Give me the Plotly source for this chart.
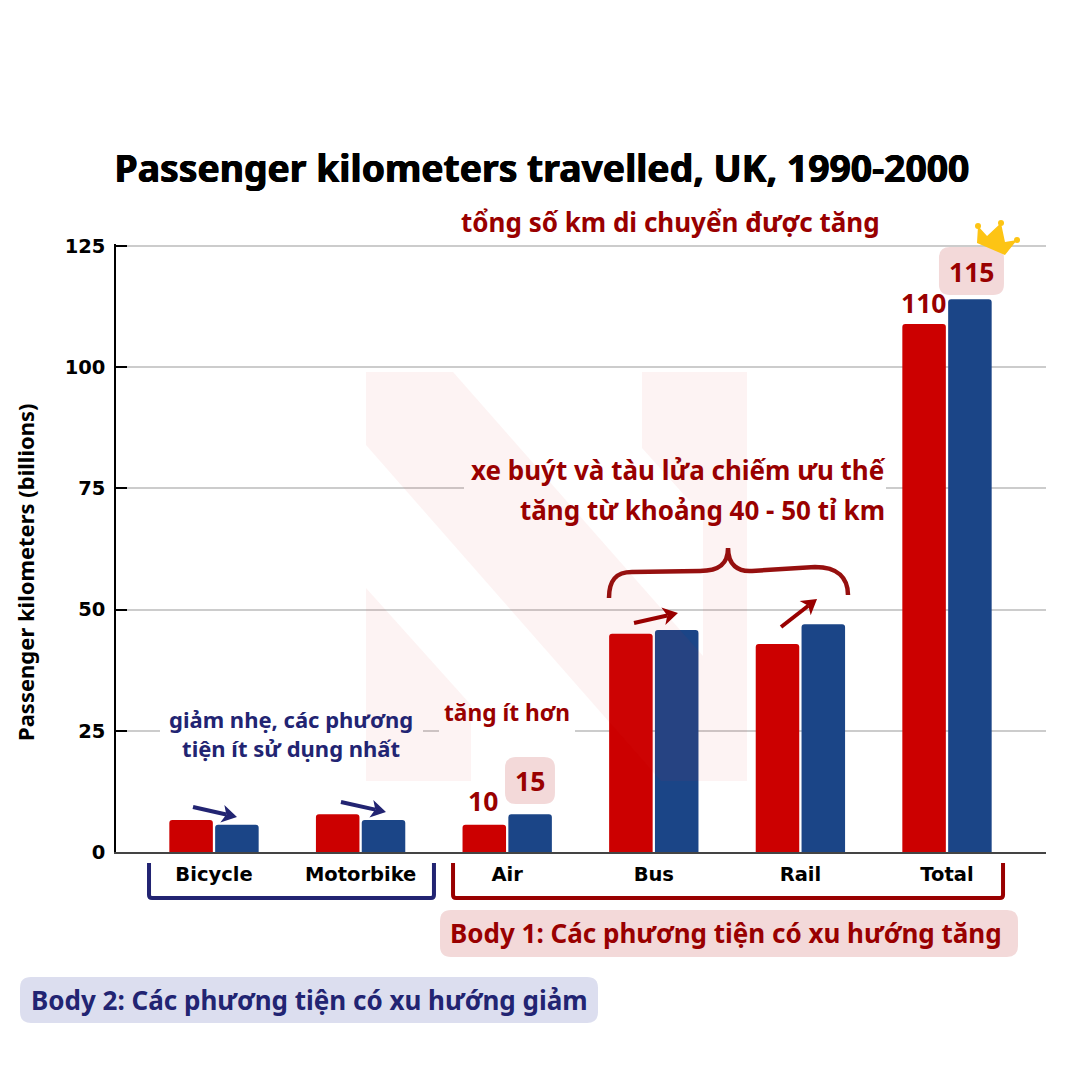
import math
import plotly.graph_objects as go

# data
categories = ["Bicycle", "Motorbike", "Air", "Bus", "Rail", "Total"]
values_1990 = [6.6, 7.8, 5.6, 45, 42.9, 108.9]
values_2000 = [5.6, 6.6, 7.8, 45.8, 47, 114]
y_ticks = [0, 25, 50, 75, 100, 125]

RED = "#cc0000"
BLUE = "#1b4587"
DARK_RED = "#990000"
NAVY = "#222472"
PINK_BOX = "#f3d9d9"
BLUE_BOX = "#dcdeef"
BODY_FONT = "Noto Sans"
TICK_FONT = "DejaVu Sans"

# plot area in page pixels (top is 2px over the 125 line, plotly drops a gridline on the edge)
L, R, T, B = 116, 1046, 244, 852
Y_MAX = (B - T) / 4.848


# page pixels -> paper coords
def fx(px):
    return (px - L) / (R - L)


def fy(py):
    return (B - py) / (B - T)


def c(x, y):
    return f"{fx(x):.4f},{fy(y):.4f}"


def path(points, close=True):
    d = "M" + " L".join(c(x, y) for x, y in points)
    return d + (" Z" if close else "")


def round_box(x0, y0, x1, y1, r):
    return (f"M{c(x0 + r, y0)} L{c(x1 - r, y0)} Q{c(x1, y0)} {c(x1, y0 + r)} "
            f"L{c(x1, y1 - r)} Q{c(x1, y1)} {c(x1 - r, y1)} "
            f"L{c(x0 + r, y1)} Q{c(x0, y1)} {c(x0, y1 - r)} "
            f"L{c(x0, y0 + r)} Q{c(x0, y0)} {c(x0 + r, y0)} Z")


def filled(d, color, layer="above"):
    return dict(type="path", xref="paper", yref="paper", path=d, fillcolor=color,
                line=dict(width=0), layer=layer)


def stroked(d, color, width):
    return dict(type="path", xref="paper", yref="paper", path=d,
                line=dict(color=color, width=width))


def arrow(x0, y0, x1, y1, color):
    # shaft plus a barbed head
    a = math.atan2(y1 - y0, x1 - x0)
    ux, uy = math.cos(a), math.sin(a)
    nx, ny = -uy, ux
    back = (x1 - 15 * ux, y1 - 15 * uy)
    notch = (x1 - 11 * ux, y1 - 11 * uy)
    head = [(x1, y1), (back[0] + 9 * nx, back[1] + 9 * ny), notch,
            (back[0] - 9 * nx, back[1] - 9 * ny)]
    return [stroked(path([(x0, y0), notch], close=False), color, 4),
            filled(path(head), color)]


def dot(x, y, r, color):
    return dict(type="circle", xref="paper", yref="paper", x0=fx(x - r), x1=fx(x + r),
                y0=fy(y + r), y1=fy(y - r), fillcolor=color, line=dict(width=0))


def label(text, x, y, size, color, family=BODY_FONT, angle=0):
    return dict(text=text, xref="paper", yref="paper", x=fx(x), y=fy(y), showarrow=False,
                xanchor="center", yanchor="middle", align="center", textangle=angle,
                font=dict(family=family, size=size, color=color, weight=700))


# white patches that cut the gridlines behind the text (data coords, under the bars)
def mask(x0, x1, y_value):
    to_x = lambda px: (px - 214) / 146.6
    return dict(type="rect", xref="x", yref="y", x0=to_x(x0), x1=to_x(x1), y0=y_value - 1, y1=y_value + 1,
                fillcolor="white", line=dict(width=0), layer="between")


fig = go.Figure()
fig.add_trace(go.Bar(name="1990", x=categories, y=values_1990, marker=dict(color=RED, line=dict(width=0))))
fig.add_trace(go.Bar(name="2000", x=categories, y=values_2000, marker=dict(color=BLUE, line=dict(width=0))))

shapes = [mask(160, 423, 25), mask(439, 575, 25), mask(464, 886, 75)]

# watermark N, sits over the bars
wm = "rgba(222,55,55,0.06)"
shapes.append(filled(path([(366, 372), (453, 372), (703, 656), (703, 781), (661, 781), (366, 445)]), wm))
shapes.append(filled(path([(642, 372), (747, 372), (747, 781), (703, 781), (703, 516), (642, 448)]), wm))
shapes.append(filled(path([(366, 588), (471, 705), (471, 781), (366, 781)]), wm))

# label boxes
shapes.append(filled(round_box(939, 247, 1004, 295, 11), PINK_BOX))
shapes.append(filled(round_box(505, 757, 555, 804, 11), PINK_BOX))
shapes.append(filled(round_box(440, 910, 1018, 957, 11), PINK_BOX))
shapes.append(filled(round_box(20, 977, 598, 1023, 11), BLUE_BOX))

# crown
CROWN = "#fdc414"
shapes.append(filled(path([(977, 243), (978, 226), (987, 236), (1001, 223), (1005, 242), (1017, 240), (1005, 255)]), CROWN))
for cx, cy in [(978, 226), (1001, 223), (1017, 240)]:
    shapes.append(dot(cx, cy, 3, CROWN))

# trend arrows
shapes += arrow(193, 807, 237, 817, NAVY)
shapes += arrow(341, 802, 386, 812, NAVY)
shapes += arrow(634, 623, 678, 613, DARK_RED)
shapes += arrow(781, 627, 817, 599, DARK_RED)

# curly brace over bus and rail
brace = (f"M{c(609, 598)} C{c(609, 580)} {c(616, 572)} {c(632, 572)} L{c(700, 571)} "
         f"C{c(718, 571)} {c(728, 565)} {c(728, 548)} C{c(728, 565)} {c(738, 572)} {c(752, 571)} "
         f"L{c(815, 567)} C{c(838, 567)} {c(848, 578)} {c(848, 595)}")
shapes.append(stroked(brace, "#96100f", 4.5))

# brackets under the categories
shapes.append(stroked(f"M{c(149, 863)} L{c(149, 895)} Q{c(149, 898)} {c(152, 898)} L{c(431, 898)} "
                      f"Q{c(434, 898)} {c(434, 895)} L{c(434, 863)}", NAVY, 4))
shapes.append(stroked(f"M{c(453, 863)} L{c(453, 895)} Q{c(453, 898)} {c(456, 898)} L{c(1000, 898)} "
                      f"Q{c(1003, 898)} {c(1003, 895)} L{c(1003, 863)}", DARK_RED, 4))

annotations = [
    label("Passenger kilometers (billions)", 25, 572, 22, "black", angle=-90),
    label("tổng số km di chuyển được tăng", 670, 222, 26, DARK_RED),
    label("xe buýt và tàu lửa chiếm ưu thế", 678, 470, 26, DARK_RED),
    label("tăng từ khoảng 40 - 50 tỉ km", 702, 510, 26, DARK_RED),
    label("giảm nhẹ, các phương<br>tiện ít sử dụng nhất", 291, 733, 22, NAVY),
    label("tăng ít hơn", 507, 712, 22.7, DARK_RED),
    label("10", 483, 801, 26.5, DARK_RED),
    label("15", 530, 781, 26.5, DARK_RED),
    label("110", 923, 303, 26.5, DARK_RED),
    label("115", 971, 272, 26.5, DARK_RED),
    label("Body 1: Các phương tiện có xu hướng tăng", 726, 933, 26, DARK_RED),
    label("Body 2: Các phương tiện có xu hướng giảm", 309, 1000, 26, NAVY),
]

fig.update_layout(
    width=1080, height=1080,
    margin=dict(l=L, r=1080 - R, t=T, b=1080 - B, pad=0),
    autosize=False,
    plot_bgcolor="white", paper_bgcolor="white",
    showlegend=False,
    barmode="group", bargap=0.375, bargroupgap=0.05, barcornerradius=3,
    title=dict(text="Passenger kilometers travelled, UK, 1990-2000",
               x=fx(542), y=1 - 169 / 1080, xanchor="center", yanchor="middle", xref="paper",
               font=dict(family=BODY_FONT, size=37.3, color="black", weight=700,
                         shadow="0.5px 0 0 black, -0.5px 0 0 black")),
    shapes=shapes,
    annotations=annotations,
)
fig.update_xaxes(range=[(L - 214) / 146.6, (R - 214) / 146.6], showgrid=False, ticks="",
                 showline=True, linecolor="#444444", linewidth=1.5, ticklabelstandoff=4,
                 tickfont=dict(family=TICK_FONT, size=19.5, color="black", weight=700))
fig.update_yaxes(range=[0, Y_MAX], tickvals=y_ticks, showgrid=True, gridcolor="#cccccc", gridwidth=1.5,
                 showline=True, linecolor="black", linewidth=1.5, zeroline=False,
                 ticks="inside", ticklen=11, tickcolor="black", tickwidth=1.5, ticklabelstandoff=5,
                 tickfont=dict(family=TICK_FONT, size=19.5, color="black", weight=700))

# default page margin would push the fixed size figure 8px off
fig.write_html("out.html", config={"displayModeBar": False}, post_script="document.body.style.margin='0';")
